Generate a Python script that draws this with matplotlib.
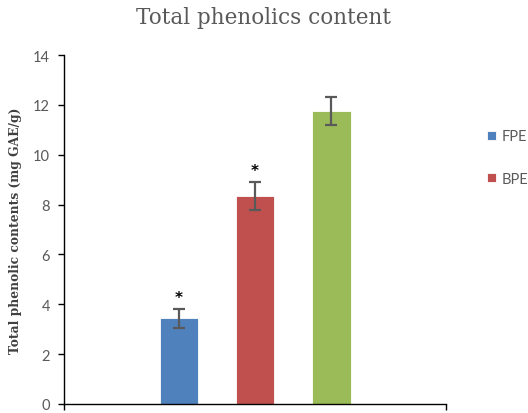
import matplotlib
matplotlib.use("Agg")
import matplotlib.pyplot as plt

# Data
series = ["FPE", "BPE", "Green"]
values = [3.44, 8.34, 11.77]
errors = [0.38, 0.57, 0.56]
significant = [True, True, False]
colors = ["#4F81BD", "#C0504D", "#9BBB59"]
positions = [1.5, 2.5, 3.5]
yticks = [0, 2, 4, 6, 8, 10, 12, 14]
legend_labels = ["FPE", "BPE"]

fig = plt.figure(figsize=(5.28, 4.14), dpi=100)
ax = fig.add_axes([64 / 528, 9 / 414, (446 - 64) / 528, (405 - 56) / 414])

bars = ax.bar(positions, values, width=0.5, color=colors,
              edgecolor="white", linewidth=0.6, zorder=2)
ax.errorbar(positions, values, yerr=errors, fmt="none", ecolor="#595959",
            elinewidth=1.6, capsize=4.5, capthick=1.6, zorder=3)

for x, v, e, s in zip(positions, values, errors, significant):
    if s:
        ax.text(x, v + e + 0.15, "*", ha="center", va="bottom",
                fontsize=11, fontweight="bold", color="black",
                family="DejaVu Sans")

ax.set_xlim(0, 5)
ax.set_ylim(0, 14)
ax.set_yticks(yticks)
ax.set_yticklabels([str(t) for t in yticks], family="Lato", fontsize=10.5,
                   color="#595959")
ax.set_xticks([0, 5])
ax.set_xticklabels([])
ax.tick_params(axis="both", direction="out", length=4, width=1, color="black")
ax.tick_params(axis="y", pad=6)

for side in ["top", "right"]:
    ax.spines[side].set_visible(False)
for side in ["left", "bottom"]:
    ax.spines[side].set_color("black")
    ax.spines[side].set_linewidth(1)

ax.set_ylabel("Total phenolic contents (mg GAE/g)", family="DejaVu Serif",
              fontweight="bold", fontsize=8.8, color="#404040", labelpad=8)

fig.text(0.5, 1 - 18 / 414, "Total phenolics content", ha="center",
         va="center", family="DejaVu Serif", fontsize=15.5, color="#595959")

ax.legend(bars[:2], legend_labels, loc="upper left",
          bbox_to_anchor=(480 / 528, 1 - 123 / 414),
          bbox_transform=fig.transFigure, frameon=False,
          prop={"family": "Lato", "size": 10.5}, labelcolor="#595959",
          handlelength=0.6, handleheight=0.6, handletextpad=0.35,
          labelspacing=1.95, borderpad=0)

fig.savefig("out.png", dpi=100)
